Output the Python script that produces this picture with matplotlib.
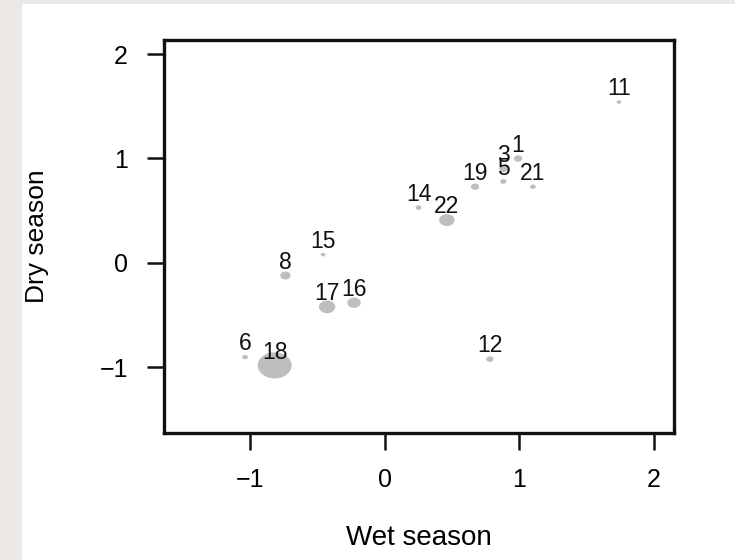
import numpy as np
import matplotlib.pyplot as plt
from matplotlib.path import Path
from matplotlib.patches import Rectangle

plt.rcParams['font.family'] = ['Liberation Sans', 'DejaVu Sans']

# site scores, wet vs dry season
labels = ['11', '1', '3', '5', '19', '21', '14', '22', '15', '8', '17', '16', '6', '18', '12']
wet = [1.74, 0.99, 0.88, 0.88, 0.67, 1.10, 0.25, 0.46, -0.46, -0.74, -0.43, -0.23, -1.04, -0.82, 0.78]
dry = [1.54, 1.00, 0.90, 0.78, 0.73, 0.73, 0.53, 0.41, 0.08, -0.12, -0.42, -0.38, -0.90, -0.98, -0.92]
diam = [4.5, 8, 8, 6, 8, 5.5, 5.5, 15, 4.5, 10, 16, 13, 5.5, 33, 7]

xticks = [-1, 0, 1, 2]
yticks = [-1, 0, 1, 2]

# slightly wide ellipse marker (the original is stretched)
t = np.linspace(0, 2 * np.pi, 60)
ell = Path(np.column_stack([1.3 * np.cos(t), np.sin(t)]), closed=True)

fig = plt.figure(figsize=(7.35, 5.6), dpi=100)
fig.patch.set_facecolor('#ebe8e5')
fig.add_artist(Rectangle((22 / 735, 0), 1, 1 - 4 / 560, transform=fig.transFigure,
                         facecolor='white', edgecolor='none', zorder=-10))

ax = fig.add_axes([164 / 735, 127 / 560, 510 / 735, 393 / 560])
ax.set_xlim(-1.643, 2.149)
ax.set_ylim(-1.627, 2.134)

sizes = (np.array(diam) * 0.74) ** 2
ax.scatter(wet, dry, s=sizes, marker=ell, color='#bebebe', edgecolors='none', zorder=2)
for lab, x, y in zip(labels, wet, dry):
    ax.annotate(lab, (x, y), xytext=(0, 9.5), textcoords='offset points',
                ha='center', va='center', fontsize=16.5, color='#111111', zorder=3)

ax.set_xticks(xticks)
ax.set_yticks(yticks)
ax.set_xticklabels(['\u22121', '0', '1', '2'])
ax.set_yticklabels(['\u22121', '0', '1', '2'])
ax.tick_params(axis='both', length=12, width=1.8, labelsize=18, color='#111111')
ax.tick_params(axis='x', pad=13)
ax.tick_params(axis='y', pad=14)
for s in ax.spines.values():
    s.set_linewidth(2.4)
    s.set_color('#111111')

ax.set_xlabel('Wet season', fontsize=20, labelpad=24)
ax.set_ylabel('Dry season', fontsize=19, labelpad=36)

fig.savefig('out.png', dpi=100, facecolor=fig.get_facecolor())
